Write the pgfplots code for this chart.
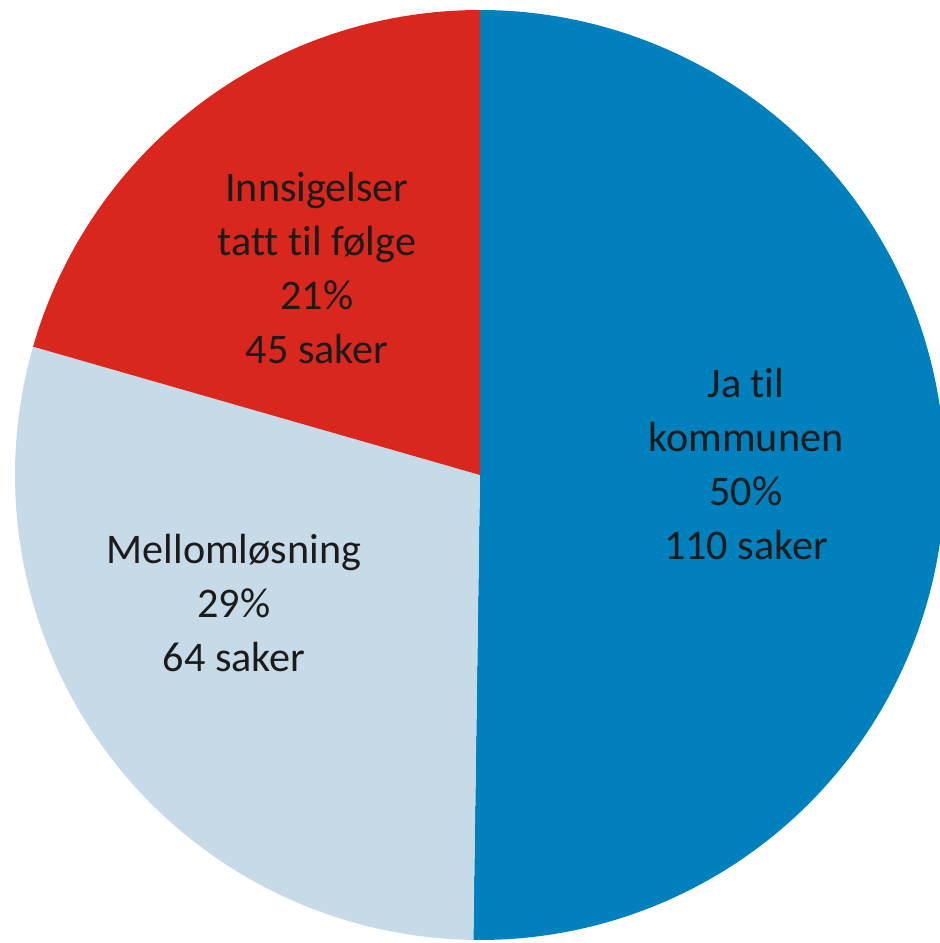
\documentclass[border=0pt]{standalone}
\usepackage{pgfplots}
\pgfplotsset{compat=1.18}
\usepackage{pgfplotstable}
\usepackage{fontspec}
\setmainfont{Carlito}[Ligatures=CommonOff]

\definecolor{jablue}{HTML}{0080BC}
\definecolor{mellomblue}{HTML}{C6DAE8}
\definecolor{innsigred}{HTML}{D9271D}
\definecolor{labeltext}{HTML}{1B1B1B}

% number of cases per category
\pgfplotstableread{
label value
ja 110
mellom 64
innsig 45
}\piedata

\pgfplotstablegetelem{0}{value}\of\piedata \let\vA\pgfplotsretval
\pgfplotstablegetelem{1}{value}\of\piedata \let\vB\pgfplotsretval
\pgfplotstablegetelem{2}{value}\of\piedata \let\vC\pgfplotsretval
\pgfmathsetmacro\total{\vA+\vB+\vC}
% slices run clockwise from 12 o'clock
\pgfmathsetmacro\aA{90-360*(\vA/\total)}
\pgfmathsetmacro\aB{\aA-360*(\vB/\total)}
\pgfmathsetmacro\aC{\aB-360*(\vC/\total)}

\begin{document}
\begin{tikzpicture}
\begin{axis}[
  name=pie,
  width=9.4cm, height=9.43cm,
  scale only axis,
  xmin=-480, xmax=460,
  ymin=-468, ymax=475,
  hide axis,
  clip=true,
]
\addplot[draw=none, fill=jablue, data cs=polar, domain=\aA:90, samples=181]
  ({x},{465}) -- (axis cs:0,0) -- cycle;
\addplot[draw=none, fill=mellomblue, data cs=polar, domain=\aB:\aA, samples=121]
  ({x},{465}) -- (axis cs:0,0) -- cycle;
\addplot[draw=none, fill=innsigred, data cs=polar, domain=\aC:\aB, samples=91]
  ({x},{465}) -- (axis cs:0,0) -- cycle;

\begin{scope}[every node/.style={align=center, text=labeltext,
    font=\fontsize{12}{15.4}\selectfont}]
\node at (axis cs:266,11) {Ja til\\kommunen\\50\%\\110 saker};
\node at (axis cs:-246,-128) {Mellomløsning\\29\%\\64 saker};
\node at (axis cs:-163,207) {Innsigelser\\tatt til følge\\21\%\\45 saker};
\end{scope}
\end{axis}
\pgfresetboundingbox
\useasboundingbox (pie.south west) rectangle (pie.north east);
\end{tikzpicture}
\end{document}
